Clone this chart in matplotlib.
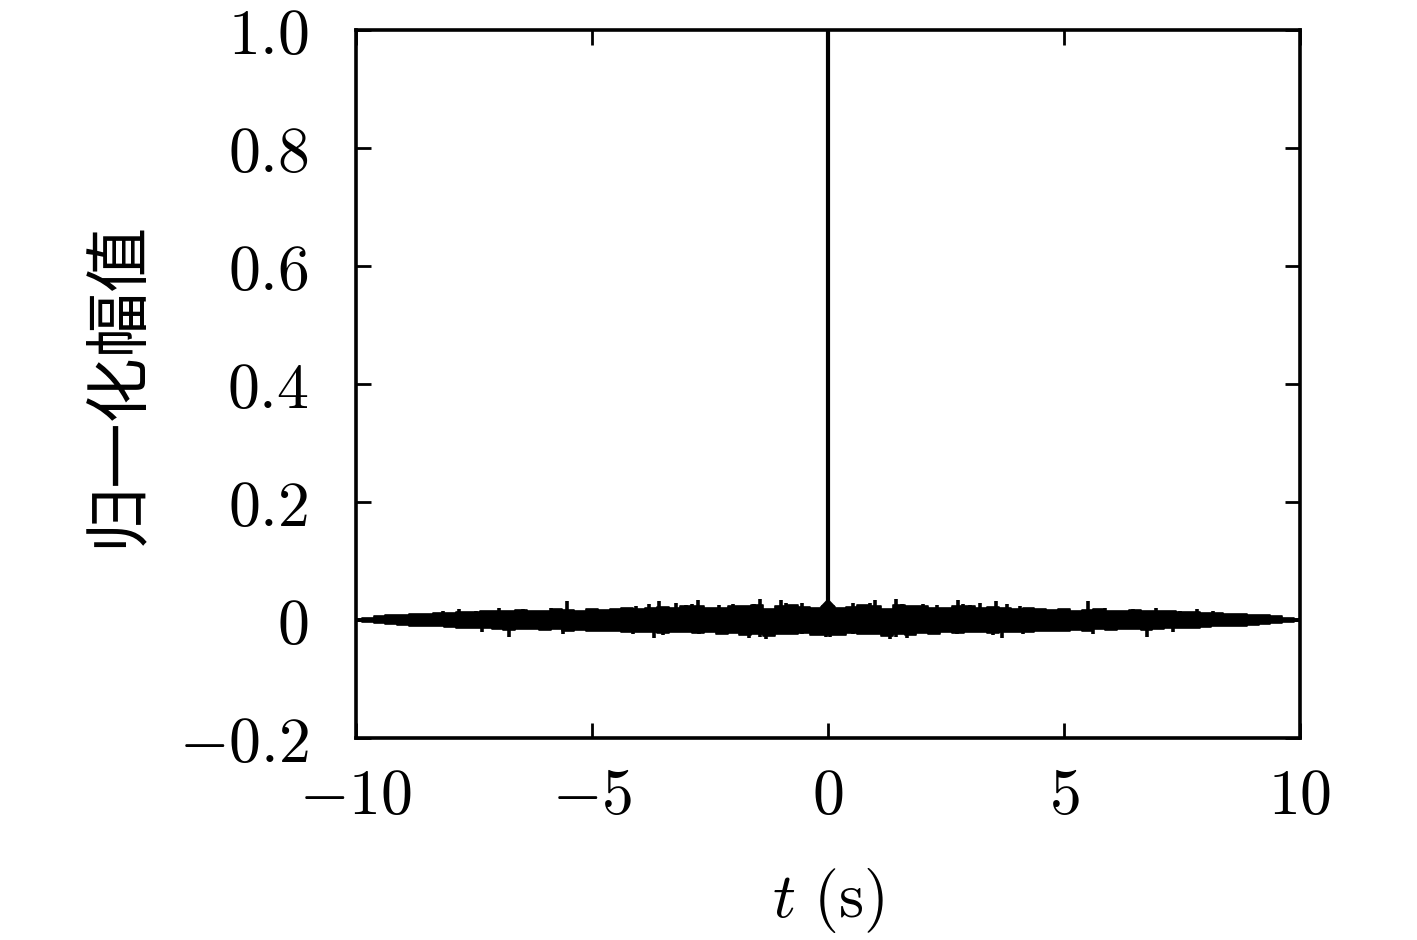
import numpy as np
import matplotlib
matplotlib.use("Agg")
import matplotlib.pyplot as plt

plt.rcParams['mathtext.fontset'] = 'cm'
plt.rcParams['font.family'] = ['DejaVu Serif']

# band of the noise floor, read for t >= 0 every 0.25 s (curve is symmetric about t = 0)
t_env = [0, 0.25, 0.5, 0.75, 1.0, 1.25, 1.5, 1.75, 2.0, 2.25, 2.5, 2.75, 3.0, 3.25,
         3.5, 3.75, 4.0, 4.25, 4.5, 4.75, 5.0, 5.25, 5.5, 5.75, 6.0, 6.25, 6.5, 6.75,
         7.0, 7.25, 7.5, 7.75, 8.0, 8.25, 8.5, 8.75, 9.0, 9.25, 9.5, 9.75, 10.0]
upper_env = [0.024, 0.020, 0.022, 0.026, 0.024, 0.019, 0.025, 0.023, 0.024, 0.021, 0.020,
             0.023, 0.024, 0.021, 0.022, 0.020, 0.019, 0.020, 0.018, 0.017, 0.018, 0.016,
             0.017, 0.018, 0.016, 0.015, 0.017, 0.015, 0.016, 0.015, 0.014, 0.014, 0.012,
             0.012, 0.011, 0.010, 0.009, 0.008, 0.006, 0.004, 0.002]
lower_env = [-0.026, -0.025, -0.022, -0.024, -0.023, -0.027, -0.024, -0.026, -0.022, -0.023,
             -0.021, -0.022, -0.020, -0.021, -0.022, -0.021, -0.020, -0.021, -0.019, -0.018,
             -0.019, -0.017, -0.018, -0.016, -0.017, -0.015, -0.016, -0.017, -0.015, -0.014,
             -0.014, -0.013, -0.012, -0.011, -0.011, -0.010, -0.008, -0.007, -0.005, -0.003,
             -0.002]

# isolated spikes sticking out of the band (t >= 0)
spike_up_t = [0.54, 0.75, 0.89, 1.0, 1.44, 1.56, 2.02, 2.30, 2.76, 2.87, 3.01, 3.22,
              3.57, 3.79, 4.07, 4.35, 5.52, 5.87, 6.47, 6.96, 7.46, 7.81, 8.16]
spike_up_v = [0.028, 0.025, 0.029, 0.034, 0.035, 0.027, 0.027, 0.025, 0.034, 0.027, 0.025, 0.029,
              0.033, 0.027, 0.024, 0.021, 0.033, 0.020, 0.018, 0.020, 0.016, 0.018, 0.016]
spike_dn_t = [0.04, 0.54, 1.31, 1.45, 1.67, 2.73, 3.50, 3.68, 4.14, 5.62, 6.75, 7.32]
spike_dn_v = [-0.028, -0.024, -0.032, -0.029, -0.031, -0.024, -0.025, -0.031, -0.024, -0.023, -0.028, -0.020]

peak_t = 0.0
peak_v = 1.0

x_ticks = [-10, -5, 0, 5, 10]
x_ticklabels = [r'$-10$', r'$-5$', r'$0$', r'$5$', r'$10$']
y_ticks = [1.0, 0.8, 0.6, 0.4, 0.2, 0, -0.2]
y_ticklabels = [r'$1.0$', r'$0.8$', r'$0.6$', r'$0.4$', r'$0.2$', r'$0$', r'$-0.2$']

# mirror to negative lags
te = np.array(t_env)
t_full = np.concatenate([-te[::-1], te[1:]])
up_full = np.concatenate([np.array(upper_env)[::-1], np.array(upper_env)[1:]])
lo_full = np.concatenate([np.array(lower_env)[::-1], np.array(lower_env)[1:]])
su_t = np.concatenate([-np.array(spike_up_t), spike_up_t])
su_v = np.concatenate([spike_up_v, spike_up_v])
sd_t = np.concatenate([-np.array(spike_dn_t), spike_dn_t])
sd_v = np.concatenate([spike_dn_v, spike_dn_v])

fig = plt.figure(figsize=(14.17, 9.4), dpi=100)
ax = fig.add_axes([0.2512, 0.2149, 0.6662, 0.7532])

ax.fill_between(t_full, lo_full, up_full, step='mid', color='black', lw=1.2)
ax.plot(t_full, (up_full + lo_full) / 2, color='black', lw=2.5)
ax.vlines(su_t, 0, su_v, color='black', lw=2.6)
ax.vlines(sd_t, sd_v, 0, color='black', lw=2.6)
ax.vlines([peak_t], 0, [peak_v], color='black', lw=3.0)
ax.plot([-0.12, peak_t, 0.12], [0.022, 0.032, 0.022], color='black', lw=2.6)

ax.set_xlim(-10, 10)
ax.set_ylim(-0.2, 1.0)
ax.set_xticks(x_ticks)
ax.set_xticklabels(x_ticklabels)
ax.set_yticks(y_ticks)
ax.set_yticklabels(y_ticklabels)
ax.tick_params(direction='in', length=11, width=2.0, labelsize=46,
               top=True, right=True)
ax.tick_params(axis='x', pad=20)
ax.tick_params(axis='y', pad=34)
for sp in ax.spines.values():
    sp.set_linewidth(2.6)

ax.set_xlabel(r'$t\ (\mathrm{s})$', fontsize=46, labelpad=28)
ax.set_ylabel('归一化幅值', fontsize=47, family=['Noto Sans CJK SC', 'DejaVu Sans'],
              fontweight='light', labelpad=20)

fig.savefig('out.png', dpi=100)
